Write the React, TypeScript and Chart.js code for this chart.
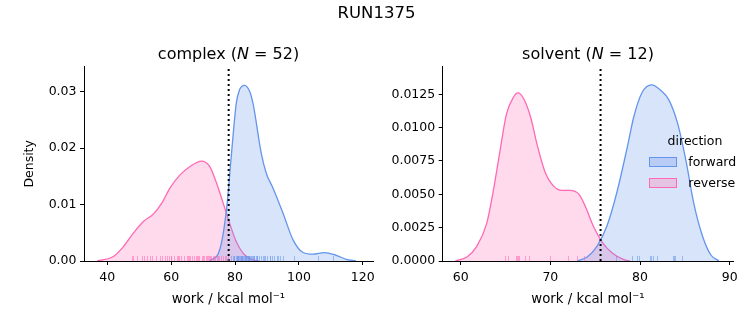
import React, { useEffect, useRef } from "react";
import { Chart, registerables } from "chart.js";
Chart.register(...registerables);

const FONT = "'DejaVu Sans', 'Liberation Sans', sans-serif";
const BLUE = "#6495ED";
const PINK = "#FF69B4";
const BLUE_FILL = "rgba(100,149,237,0.25)";
const PINK_FILL = "rgba(255,105,180,0.25)";
const BLUE_RUG = "rgba(100,149,237,0.55)";
const PINK_RUG = "rgba(255,105,180,0.55)";

// ---------- complex (N = 52) ----------
const complexForwardX = [72.1, 75.2, 77.3, 78.9, 80.4, 81.4, 83.0, 84.6, 85.6, 88.2, 89.8, 91.9, 95.0, 98.2, 101.3, 104.4, 108.0, 111.7, 114.8, 117.9];
const complexForwardDensity = [0, 0.002, 0.009, 0.0191, 0.028, 0.0303, 0.0311, 0.03, 0.028, 0.0191, 0.0155, 0.0129, 0.0085, 0.0037, 0.0015, 0.0012, 0.0015, 0.001, 0.0003, 0];
const complexReverseX = [36.8, 41.9, 45.0, 48.1, 51.3, 54.4, 57.0, 59.6, 62.7, 65.8, 69.5, 72.1, 74.2, 76.3, 78.3, 80.4, 82.5, 85.6, 87.5];
const complexReverseDensity = [0, 0.0008, 0.0025, 0.0049, 0.007, 0.0083, 0.0102, 0.0129, 0.0152, 0.0167, 0.0177, 0.0167, 0.0138, 0.0102, 0.0067, 0.0034, 0.0014, 0.0002, 0];
const complexForwardWork = [78.8, 79.3, 79.6, 79.8, 80.2, 80.5, 80.7, 80.9, 81.0, 81.2, 81.5, 81.8, 82.0, 82.2, 82.3, 82.5, 82.8, 83.0, 83.2, 83.3, 83.5, 83.7, 84.0, 84.2, 84.3, 84.5, 84.8, 85.0, 85.3, 85.6, 85.8, 86.0, 86.5, 86.8, 87.0, 87.6, 88.2, 88.9, 89.1, 89.5, 90.1, 90.8, 91.0, 91.5, 92.3, 93.0, 93.6, 94.0, 95.0, 98.6, 105.9, 110.6];
const complexReverseWork = [47.6, 48.2, 49.4, 51.0, 51.6, 52.3, 53.3, 54.0, 55.4, 56.5, 57.2, 58.0, 58.6, 59.3, 59.8, 60.1, 60.8, 61.7, 62.0, 62.5, 63.2, 63.9, 64.8, 65.3, 65.7, 66.0, 66.4, 67.1, 67.9, 68.0, 68.3, 68.8, 69.5, 69.9, 70.4, 70.8, 71.1, 71.5, 72.0, 72.3, 72.6, 73.0, 73.5, 73.8, 74.2, 74.6, 75.1, 75.7, 76.2, 76.8, 77.3, 77.8];
const complexEstimate = [78.0];
const complexTicksX = [40, 60, 80, 100, 120];
const complexTicksY = [0, 0.01, 0.02, 0.03];

// ---------- solvent (N = 12) ----------
const solventForwardX = [73.0, 74.1, 75.2, 76.3, 77.4, 78.6, 79.3, 80.2, 81.3, 82.3, 83.2, 84.2, 85.1, 86.0, 87.0, 87.9, 88.8];
const solventForwardDensity = [0, 0.0003, 0.0011, 0.0026, 0.0051, 0.0086, 0.0108, 0.0126, 0.0132, 0.0128, 0.0121, 0.0103, 0.0076, 0.0043, 0.0018, 0.00045, 0];
const solventReverseX = [59.4, 60.7, 61.8, 62.9, 63.6, 64.4, 65.1, 65.9, 66.4, 67.0, 67.8, 68.5, 69.4, 70.4, 71.3, 72.2, 73.2, 73.9, 74.8, 75.8, 76.9, 78.2, 78.9];
const solventReverseDensity = [0, 0.0003, 0.0011, 0.0028, 0.0051, 0.0083, 0.011, 0.0123, 0.0126, 0.0122, 0.0108, 0.0088, 0.0067, 0.0056, 0.0053, 0.0053, 0.005, 0.0041, 0.0026, 0.0014, 0.0006, 0.0001, 0];
const solventForwardWork = [77.3, 79.1, 79.7, 79.9, 81.1, 81.2, 81.4, 81.9, 83.7, 83.8, 83.9, 84.7];
const solventReverseWork = [65.0, 65.3, 66.2, 66.3, 66.4, 66.5, 67.2, 67.6, 70.0, 72.0, 73.0, 73.7];
const solventEstimate = [75.6];
const solventTicksX = [60, 70, 80, 90];
const solventTicksY = [0, 0.0025, 0.005, 0.0075, 0.01, 0.0125];

const pts = (xs: number[], ys: number[]) => xs.map((x, i) => ({ x, y: ys[i] }));

const rugPlugin = {
  id: "rug",
  afterDatasetsDraw(chart: any, _args: any, opts: any) {
    const { ctx, chartArea } = chart;
    const xs = chart.scales.x;
    for (const r of opts.sets || []) {
      ctx.save();
      ctx.strokeStyle = r.color;
      ctx.lineWidth = 1;
      for (const v of r.values) {
        const px = Math.round(xs.getPixelForValue(v)) + 0.5;
        ctx.beginPath();
        ctx.moveTo(px, chartArea.bottom);
        ctx.lineTo(px, chartArea.bottom - 5);
        ctx.stroke();
      }
      ctx.restore();
    }
  },
};

type PanelCfg = {
  fx: number[]; fy: number[]; rx: number[]; ry: number[];
  fw: number[]; rw: number[]; est: number[];
  xMin: number; xMax: number; yMax: number;
  ticksX: number[]; ticksY: number[]; dec: number;
  yWidth: number; rightPad: number; yTitle: string | null;
};

function makeConfig(c: PanelCfg): any {
  const tickFont = { family: FONT, size: 12.5 };
  return {
    type: "line",
    data: {
      datasets: [
        {
          data: [{ x: c.est[0], y: 0 }, { x: c.est[0], y: c.yMax }],
          borderColor: "#000",
          borderWidth: 2,
          borderDash: [2, 3],
          pointRadius: 0,
          fill: false,
        },
        {
          data: pts(c.fx, c.fy),
          borderColor: BLUE,
          backgroundColor: BLUE_FILL,
          borderWidth: 1.3,
          pointRadius: 0,
          fill: "origin",
          cubicInterpolationMode: "monotone",
        },
        {
          data: pts(c.rx, c.ry),
          borderColor: PINK,
          backgroundColor: PINK_FILL,
          borderWidth: 1.3,
          pointRadius: 0,
          fill: "origin",
          cubicInterpolationMode: "monotone",
        },
      ],
    },
    options: {
      responsive: false,
      animation: false,
      events: [],
      layout: { padding: { top: 66.7, right: c.rightPad, bottom: 0, left: 0 } },
      plugins: {
        legend: { display: false },
        tooltip: { enabled: false },
        rug: {
          sets: [
            { values: c.rw, color: PINK_RUG },
            { values: c.fw, color: BLUE_RUG },
          ],
        },
      },
      scales: {
        x: {
          type: "linear",
          min: c.xMin,
          max: c.xMax,
          afterBuildTicks: (s: any) => { s.ticks = c.ticksX.map((v) => ({ value: v })); },
          afterFit: (s: any) => { s.height = 64; },
          ticks: { font: tickFont, color: "#000", padding: 5, maxRotation: 0, autoSkip: false, callback: (v: any) => String(v) },
          grid: { display: true, drawOnChartArea: false, drawTicks: true, tickLength: 4, color: "#000", lineWidth: 1 },
          border: { display: true, color: "#000", width: 1 },
          title: {
            display: true,
            text: "work / kcal mol\u207B\u00B9",
            font: { family: FONT, size: 13.3 },
            color: "#000",
            padding: { top: 0, bottom: 17 },
          },
        },
        y: {
          type: "linear",
          min: 0,
          max: c.yMax,
          afterBuildTicks: (s: any) => { s.ticks = c.ticksY.map((v) => ({ value: v })); },
          afterFit: (s: any) => { s.width = c.yWidth; },
          ticks: { font: tickFont, color: "#000", padding: 3.5, autoSkip: false, callback: (v: any) => Number(v).toFixed(c.dec) },
          grid: { display: true, drawOnChartArea: false, drawTicks: true, tickLength: 4, color: "#000", lineWidth: 1 },
          border: { display: true, color: "#000", width: 1 },
          title: {
            display: !!c.yTitle,
            text: c.yTitle || "",
            font: { family: FONT, size: 12.5 },
            color: "#000",
            padding: { top: 22.5, bottom: 0 },
          },
        },
      },
    },
    plugins: [rugPlugin],
  };
}

function Panel({ cfg, left, width }: { cfg: PanelCfg; left: number; width: number }) {
  const ref = useRef<HTMLCanvasElement>(null);
  useEffect(() => {
    const chart = new Chart(ref.current as HTMLCanvasElement, makeConfig(cfg));
    return () => chart.destroy();
  }, []);
  return (
    <canvas
      ref={ref}
      width={width}
      height={325}
      style={{ position: "absolute", left, top: 0, width, height: 325 }}
    />
  );
}

const complexCfg: PanelCfg = {
  fx: complexForwardX, fy: complexForwardDensity, rx: complexReverseX, ry: complexReverseDensity,
  fw: complexForwardWork, rw: complexReverseWork, est: complexEstimate,
  xMin: 32.7, xMax: 123.2, yMax: 0.0344, ticksX: complexTicksX, ticksY: complexTicksY, dec: 2,
  yWidth: 84, rightPad: 7, yTitle: "Density",
};
const solventCfg: PanelCfg = {
  fx: solventForwardX, fy: solventForwardDensity, rx: solventReverseX, ry: solventReverseDensity,
  fw: solventForwardWork, rw: solventReverseWork, est: solventEstimate,
  xMin: 58, xMax: 90.4, yMax: 0.01457, ticksX: solventTicksX, ticksY: solventTicksY, dec: 4,
  yWidth: 62.7, rightPad: 19.7, yTitle: null,
};

const textBase: React.CSSProperties = {
  position: "absolute",
  fontFamily: FONT,
  color: "#000",
  whiteSpace: "nowrap",
};

export default function App() {
  return (
    <div style={{ position: "fixed", left: 0, top: 0, width: 753, height: 325, background: "#fff", overflow: "hidden" }}>
      <Panel cfg={complexCfg} left={0} width={380} />
      <Panel cfg={solventCfg} left={380} width={373} />
      <div style={{ ...textBase, left: 0, width: 753, top: 4, lineHeight: "18px", fontSize: 16.5, textAlign: "center" }}>RUN1375</div>
      <div style={{ ...textBase, left: 84, width: 289, top: 45, lineHeight: "18px", fontSize: 16, textAlign: "center" }}>
        complex (<i>N</i> = 52)
      </div>
      <div style={{ ...textBase, left: 442.7, width: 290.6, top: 45, lineHeight: "18px", fontSize: 16, textAlign: "center" }}>
        solvent (<i>N</i> = 12)
      </div>
      <div style={{ ...textBase, left: 645, width: 100, top: 133, lineHeight: "16px", fontSize: 12.5, textAlign: "center" }}>direction</div>
      <div style={{ position: "absolute", left: 649.3, top: 157.3, width: 27.4, height: 10, boxSizing: "border-box", border: `1px solid ${BLUE}`, background: "rgb(184,204,246)" }} />
      <div style={{ position: "absolute", left: 649.3, top: 178.3, width: 27.4, height: 10, boxSizing: "border-box", border: `1px solid ${PINK}`, background: "rgb(228,196,226)" }} />
      <div style={{ ...textBase, left: 688.3, top: 154, lineHeight: "16px", fontSize: 12.5 }}>forward</div>
      <div style={{ ...textBase, left: 688.3, top: 175, lineHeight: "16px", fontSize: 12.5 }}>reverse</div>
    </div>
  );
}
